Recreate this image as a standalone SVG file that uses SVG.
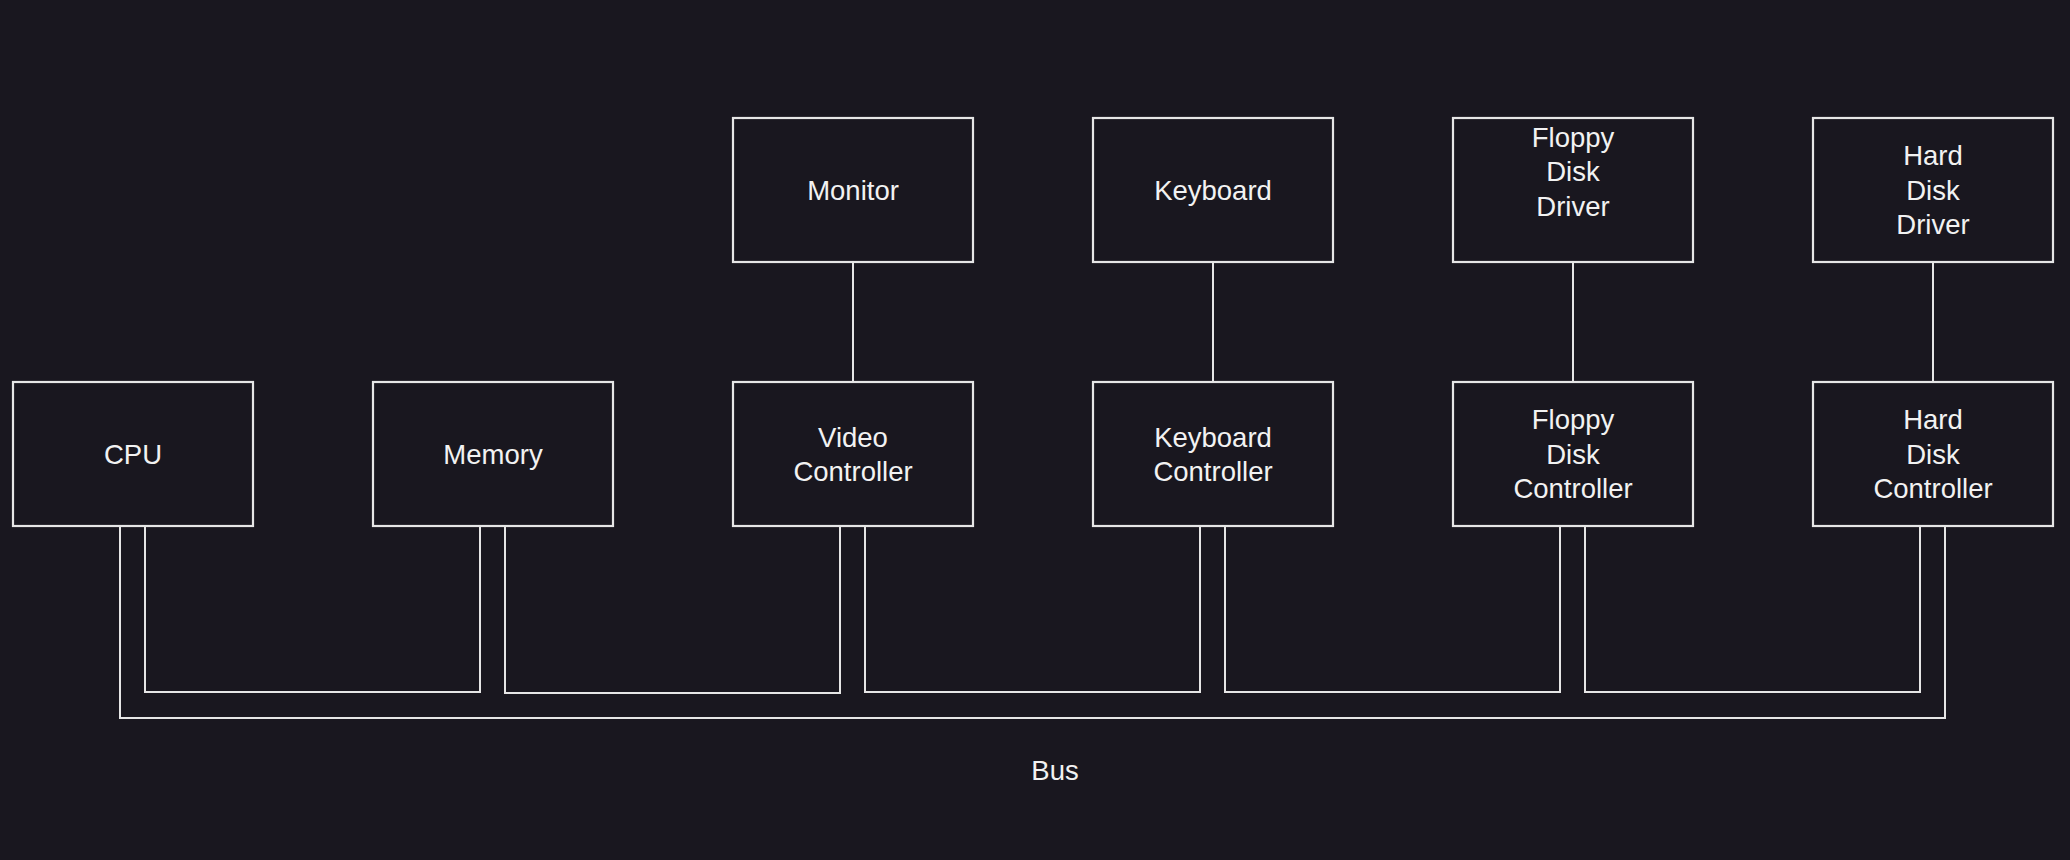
<svg xmlns="http://www.w3.org/2000/svg" width="2070" height="860" viewBox="0 0 2070 860">
  <style>
    .box { fill: #19171f; stroke: #e6e6e6; stroke-width: 2.2; }
    .lbl { font-family: "Liberation Sans", Arial, sans-serif; font-size: 27.5px; fill: #f2f2f2; text-anchor: middle; }
    .wire { fill: none; stroke: #e6e6e6; stroke-width: 2; }
  </style>
  <rect x="0" y="0" width="2070" height="860" fill="#19171f"/>

  <g id="connectors">
    <path class="wire" d="M853 262 V382"/>
    <path class="wire" d="M1213 262 V382"/>
    <path class="wire" d="M1573 262 V382"/>
    <path class="wire" d="M1933 262 V382"/>
    <path class="wire" d="M145 527 V692 H480 V527"/>
    <path class="wire" d="M505 527 V693 H840 V527"/>
    <path class="wire" d="M865 527 V692 H1200 V527"/>
    <path class="wire" d="M1225 527 V692 H1560 V527"/>
    <path class="wire" d="M1585 527 V692 H1920 V527"/>
    <path class="wire" d="M120 527 V718 H1945 V527"/>
  </g>

  <g id="monitor">
    <rect class="box" x="733" y="118" width="240" height="144"/>
    <text class="lbl" x="853" y="200">Monitor</text>
  </g>
  <g id="keyboard">
    <rect class="box" x="1093" y="118" width="240" height="144"/>
    <text class="lbl" x="1213" y="200">Keyboard</text>
  </g>
  <g id="floppy-disk-driver">
    <rect class="box" x="1453" y="118" width="240" height="144"/>
    <text class="lbl" x="1573" y="146.5">Floppy</text>
    <text class="lbl" x="1573" y="181">Disk</text>
    <text class="lbl" x="1573" y="215.5">Driver</text>
  </g>
  <g id="hard-disk-driver">
    <rect class="box" x="1813" y="118" width="240" height="144"/>
    <text class="lbl" x="1933" y="165">Hard</text>
    <text class="lbl" x="1933" y="199.5">Disk</text>
    <text class="lbl" x="1933" y="234">Driver</text>
  </g>

  <g id="cpu">
    <rect class="box" x="13" y="382" width="240" height="144"/>
    <text class="lbl" x="133" y="464">CPU</text>
  </g>
  <g id="memory">
    <rect class="box" x="373" y="382" width="240" height="144"/>
    <text class="lbl" x="493" y="464">Memory</text>
  </g>
  <g id="video-controller">
    <rect class="box" x="733" y="382" width="240" height="144"/>
    <text class="lbl" x="853" y="446.5">Video</text>
    <text class="lbl" x="853" y="481">Controller</text>
  </g>
  <g id="keyboard-controller">
    <rect class="box" x="1093" y="382" width="240" height="144"/>
    <text class="lbl" x="1213" y="446.5">Keyboard</text>
    <text class="lbl" x="1213" y="481">Controller</text>
  </g>
  <g id="floppy-disk-controller">
    <rect class="box" x="1453" y="382" width="240" height="144"/>
    <text class="lbl" x="1573" y="429">Floppy</text>
    <text class="lbl" x="1573" y="463.5">Disk</text>
    <text class="lbl" x="1573" y="498">Controller</text>
  </g>
  <g id="hard-disk-controller">
    <rect class="box" x="1813" y="382" width="240" height="144"/>
    <text class="lbl" x="1933" y="429">Hard</text>
    <text class="lbl" x="1933" y="463.5">Disk</text>
    <text class="lbl" x="1933" y="498">Controller</text>
  </g>

  <g id="bus-label">
    <text class="lbl" x="1055" y="780">Bus</text>
  </g>
</svg>
